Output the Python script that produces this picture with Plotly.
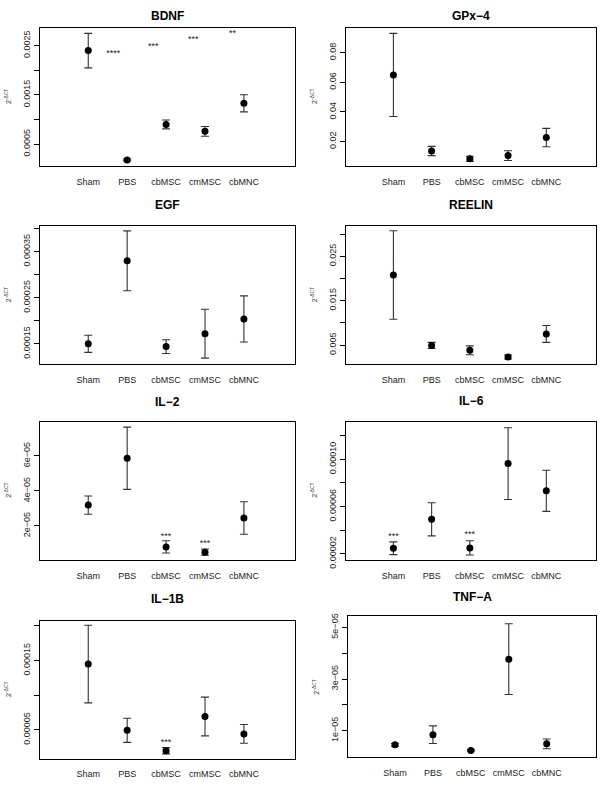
import plotly.graph_objects as go

groups = ["Sham", "PBS", "cbMSC", "cmMSC", "cbMNC"]
xpos = [1, 2, 3, 4, 5]

bdnf_mean = [0.00240, 0.00018, 0.00090, 0.00076, 0.00133]
bdnf_err = [0.00035, 0.00002, 0.00009, 0.00010, 0.000175]
gpx_mean = [0.0651, 0.0136, 0.0083, 0.0105, 0.0227]
gpx_err = [0.0281, 0.0031, 0.0017, 0.0033, 0.0062]
egf_mean = [0.000150, 0.000330, 0.000144, 0.000172, 0.000204]
egf_err = [0.0000185, 0.000065, 0.000015, 0.000053, 0.000050]
reelin_mean = [0.0208, 0.0049, 0.0038, 0.0023, 0.0075]
reelin_err = [0.0100, 0.0007, 0.0010, 0.00045, 0.0019]
il2_mean = [3.19e-5, 5.87e-5, 8.0e-6, 5.0e-6, 2.45e-5]
il2_err = [5.2e-6, 1.78e-5, 3.5e-6, 1.8e-6, 9.3e-6]
il6_mean = [2.47e-5, 4.92e-5, 2.50e-5, 9.63e-5, 7.33e-5]
il6_err = [5.4e-6, 1.40e-5, 6.0e-6, 3.03e-5, 1.74e-5]
il1b_mean = [1.45e-4, 4.95e-5, 2.0e-5, 6.94e-5, 4.43e-5]
il1b_err = [5.6e-5, 1.74e-5, 4.5e-6, 2.8e-5, 1.35e-5]
tnf_mean = [4.55e-6, 8.48e-6, 2.38e-6, 3.77e-5, 4.93e-6]
tnf_err = [0.5e-6, 3.4e-6, 0.3e-6, 1.37e-5, 1.9e-6]

# significance marks: (x, y, text)
bdnf_star_x = [1.64, 2.67, 3.70, 4.71]
bdnf_star_y = [0.00233, 0.00248, 0.00262, 0.00275]
bdnf_star_t = ["****", "***", "***", "**"]
il2_star_x = [3, 4]
il2_star_y = [1.39e-5, 1.0e-5]
il2_star_t = ["***", "***"]
il6_star_x = [1, 3]
il6_star_y = [3.47e-5, 3.58e-5]
il6_star_t = ["***", "***"]
il1b_star_x = [3]
il1b_star_y = [3.1e-5]
il1b_star_t = ["***"]

panels = [
    dict(title="BDNF", mean=bdnf_mean, err=bdnf_err, yr=[0.000047, 0.002867],
         tv=[0.0005, 0.0010, 0.0015, 0.0020, 0.0025], tt=["0.0005", "", "0.0015", "", "0.0025"],
         stars=(bdnf_star_x, bdnf_star_y, bdnf_star_t), box=(40, 294.5, 25, 166), ty=13),
    dict(title="GPx−4", mean=gpx_mean, err=gpx_err, yr=[0.00333, 0.0971],
         tv=[0.02, 0.04, 0.06, 0.08], tt=["0.02", "0.04", "0.06", "0.08"],
         stars=None, box=(346, 596, 25, 165.7), ty=13),
    dict(title="EGF", mean=egf_mean, err=egf_err, yr=[0.000106, 0.000405],
         tv=[0.00015, 0.0002, 0.00025, 0.0003, 0.00035, 0.0004],
         tt=["0.00015", "", "0.00025", "", "0.00035", ""],
         stars=None, box=(40, 294.5, 226.7, 366.7), ty=205),
    dict(title="REELIN", mean=reelin_mean, err=reelin_err, yr=[0.00069, 0.0318],
         tv=[0.005, 0.01, 0.015, 0.02, 0.025, 0.03], tt=["0.005", "", "0.015", "", "0.025", ""],
         stars=None, box=(346, 596, 226.7, 366.7), ty=205.5),
    dict(title="IL−2", mean=il2_mean, err=il2_err, yr=[4.5e-7, 7.97e-5],
         tv=[2e-5, 4e-5, 6e-5], tt=["2e−05", "4e−05", "6e−05"],
         stars=(il2_star_x, il2_star_y, il2_star_t), box=(40, 294.5, 425, 565.7), ty=405),
    dict(title="IL−6", mean=il6_mean, err=il6_err, yr=[1.47e-5, 1.319e-4],
         tv=[2e-5, 4e-5, 6e-5, 8e-5, 1e-4, 1.2e-4],
         tt=["0.00002", "", "0.00006", "", "0.00010", ""],
         stars=(il6_star_x, il6_star_y, il6_star_t), box=(346, 596, 425, 565.7), ty=404.5),
    dict(title="IL−1B", mean=il1b_mean, err=il1b_err, yr=[8.6e-6, 2.07e-4],
         tv=[5e-5, 1e-4, 1.5e-4, 2e-4], tt=["0.00005", "", "0.00015", ""],
         stars=(il1b_star_x, il1b_star_y, il1b_star_t), box=(40, 294.5, 627.7, 767.3), ty=605),
    dict(title="TNF−A", mean=tnf_mean, err=tnf_err, yr=[-1.7e-7, 5.43e-5],
         tv=[1e-5, 2e-5, 3e-5, 4e-5, 5e-5], tt=["1e−05", "", "3e−05", "", "5e−05"],
         stars=None, box=(348, 596, 622.7, 765.7), ty=603.5),
]

W, H = 600, 788
FONT = "Liberation Sans, Arial, Helvetica, sans-serif"
fig = go.Figure()
layout = dict(width=W, height=H, margin=dict(l=0, r=0, t=0, b=0),
              paper_bgcolor="white", plot_bgcolor="white", showlegend=False,
              font=dict(family=FONT, size=9, color="#222"))
annotations = []

for i, p in enumerate(panels):
    n = "" if i == 0 else str(i + 1)
    xa, ya = "x" + n, "y" + n
    x0, x1, t0, b0 = p["box"]
    fig.add_trace(go.Scatter(
        x=xpos, y=p["mean"], mode="markers", xaxis=xa, yaxis=ya,
        marker=dict(color="black", size=7),
        error_y=dict(type="data", array=p["err"], visible=True, color="#333",
                     thickness=1.1, width=4)))
    if p["stars"]:
        sx, sy, st = p["stars"]
        fig.add_trace(go.Scatter(
            x=sx, y=sy, text=st, mode="text", xaxis=xa, yaxis=ya,
            textposition="middle center",
            textfont=dict(family=FONT, size=9, color="#222")))
    layout["xaxis" + n] = dict(
        domain=[x0 / W, x1 / W], anchor=ya, range=[-0.24, 6.3],
        tickvals=xpos, ticktext=groups, ticks="outside", ticklen=7,
        tickcolor="rgba(0,0,0,0)", showline=True, mirror=True, linecolor="black",
        linewidth=1, showgrid=False, zeroline=False,
        tickfont=dict(family=FONT, size=9, color="#222"))
    layout["yaxis" + n] = dict(
        domain=[1 - b0 / H, 1 - t0 / H], anchor=xa, range=p["yr"],
        tickvals=p["tv"], ticktext=p["tt"], tickangle=-90, ticks="outside",
        ticklen=5, tickcolor="black", showline=True, mirror=True,
        linecolor="black", linewidth=1, showgrid=False, zeroline=False,
        tickfont=dict(family=FONT, size=9, color="#222"))
    annotations.append(dict(
        text="<b>" + p["title"] + "</b>", x=(x0 + x1) / 2 / W, y=1 - p["ty"] / H,
        xref="paper", yref="paper", showarrow=False, xanchor="center", yanchor="middle",
        font=dict(family=FONT, size=12, color="black")))
    annotations.append(dict(
        text="2<sup>-ΔCT</sup>", x=(x0 - 32) / W, y=1 - (t0 + b0) / 2 / H,
        xref="paper", yref="paper", showarrow=False, textangle=-90,
        xanchor="center", yanchor="middle",
        font=dict(family=FONT, size=7, color="#333")))

layout["annotations"] = annotations
fig.update_layout(**layout)
fig.write_html(
    "out.html",
    config={"displayModeBar": False},
    post_script="document.body.style.margin='0';document.body.style.overflow='hidden';")
